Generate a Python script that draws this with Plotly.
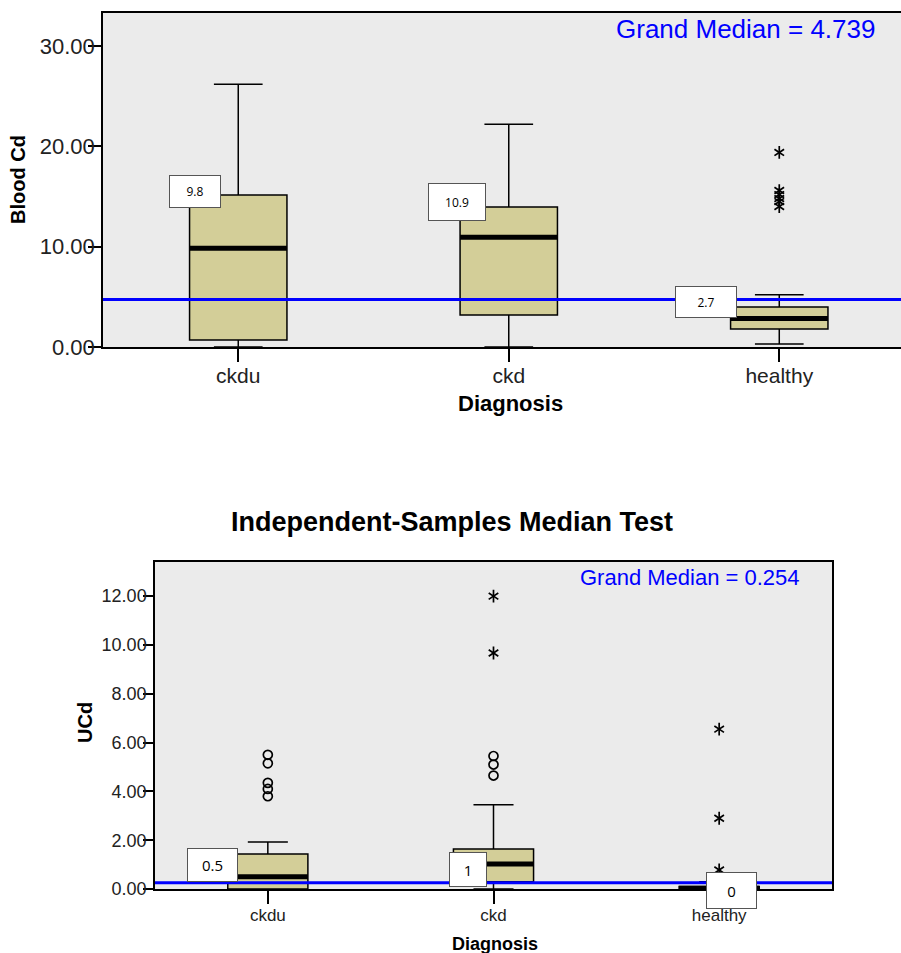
import plotly.graph_objects as go

# ---------------- data ----------------
categories = ["ckdu", "ckd", "healthy"]

# Blood Cd (top panel)
blood_q1 = [0.7, 3.2, 1.8]
blood_median = [9.85, 10.95, 2.85]
blood_q3 = [15.15, 13.95, 4.0]
blood_low = [0.0, 0.0, 0.3]
blood_high = [26.2, 22.2, 5.2]
blood_star_healthy = [19.4, 15.6, 15.2, 14.8, 14.5, 14.0]
blood_labels = ["9.8", "10.9", "2.7"]
blood_grand_median = 4.739

# Urinary Cd (bottom panel)
ucd_q1 = [0.0, 0.3, 0.0]
ucd_median = [0.5, 1.02, 0.03]
ucd_q3 = [1.43, 1.64, 0.1]
ucd_low = [0.0, 0.0, 0.0]
ucd_high = [1.93, 3.45, 0.3]
ucd_circ_ckdu = [5.5, 5.15, 4.35, 4.1, 3.8]
ucd_circ_ckd = [5.45, 5.1, 4.65]
ucd_star_ckd = [12.0, 9.67]
ucd_star_healthy = [6.55, 2.9, 0.78]
ucd_labels = ["0.5", "1", "0"]
ucd_grand_median = 0.254

W, H = 901, 953
def px(x):
    return x / W
def py(y):
    return 1 - y / H

FILL = "#D3CE98"
BG = "#EBEBEB"
FONT = "Liberation Sans, Arial, sans-serif"

fig = go.Figure()

def add_panel(xa, ya, q1, med, q3, lo, hi, bw):
    for i in range(len(categories)):
        fig.add_trace(go.Box(
            x=[i], q1=[q1[i]], median=[med[i]], q3=[q3[i]],
            lowerfence=[lo[i]], upperfence=[hi[i]],
            width=bw, whiskerwidth=0.5, fillcolor=FILL,
            line=dict(color="black", width=1.5), boxpoints=False,
            xaxis=xa, yaxis=ya, showlegend=False, hoverinfo="skip"))
        fig.add_trace(go.Scatter(
            x=[i - bw / 2, i + bw / 2], y=[med[i], med[i]], mode="lines",
            line=dict(color="black", width=5), xaxis=xa, yaxis=ya,
            showlegend=False, hoverinfo="skip"))

def add_points(xa, ya, idx, vals, kind):
    symbols = ["circle-open"] if kind == "circle" else ["y-up-open", "y-down-open"]
    for s in symbols:
        fig.add_trace(go.Scatter(
            x=[idx] * len(vals), y=vals, mode="markers",
            marker=dict(symbol=s, size=9 if kind == "circle" else 8, color="black",
                        line=dict(color="black", width=1.7)),
            xaxis=xa, yaxis=ya, showlegend=False, hoverinfo="skip"))

# top panel
add_panel("x", "y", blood_q1, blood_median, blood_q3, blood_low, blood_high, 0.36)
add_points("x", "y", 2, blood_star_healthy, "star")
# bottom panel
add_panel("x2", "y2", ucd_q1, ucd_median, ucd_q3, ucd_low, ucd_high, 0.355)
add_points("x2", "y2", 0, ucd_circ_ckdu, "circle")
add_points("x2", "y2", 1, ucd_circ_ckd, "circle")
add_points("x2", "y2", 1, ucd_star_ckd, "star")
add_points("x2", "y2", 2, ucd_star_healthy, "star")

# grand median lines
fig.add_shape(type="line", xref="x domain", yref="y", x0=0, x1=1,
              y0=blood_grand_median, y1=blood_grand_median,
              line=dict(color="#0000FF", width=3))
fig.add_shape(type="line", xref="x2 domain", yref="y2", x0=0, x1=1,
              y0=ucd_grand_median, y1=ucd_grand_median,
              line=dict(color="#0000FF", width=3))

# median value labels
top_off = [(-0.16, 5.7), (-0.19, 3.5), (-0.27, 1.64)]
top_box = [(48, 29), (54, 34), (58, 28)]
for i, (dx, dy) in enumerate(top_off):
    fig.add_annotation(x=i + dx, y=blood_median[i] + dy, xref="x", yref="y",
                       xanchor="center", yanchor="middle",
                       text=blood_labels[i], showarrow=False,
                       font=dict(size=12, color="black", family="Open Sans, sans-serif"),
                       bgcolor="white", bordercolor="#555", borderwidth=1,
                       width=top_box[i][0], height=top_box[i][1], align="center")
bot_off = [(-0.244, 0.48, 0), (-0.115, -0.24, 0), (0.053, 0.0, -2)]
bot_box = [(47, 30), (34, 31), (47, 33)]
for i, (dx, dy, ys) in enumerate(bot_off):
    fig.add_annotation(x=i + dx, y=ucd_median[i] + dy, xref="x2", yref="y2",
                       xanchor="center", yanchor="middle", yshift=ys,
                       text=ucd_labels[i], showarrow=False,
                       font=dict(size=15, color="black", family="Open Sans, sans-serif"),
                       bgcolor="white", bordercolor="#555", borderwidth=1,
                       width=bot_box[i][0], height=bot_box[i][1], align="center")

# texts
def txt(x, y, s, size, color="black", angle=0):
    fig.add_annotation(x=px(x), y=py(y), xref="paper", yref="paper",
                       xanchor="center", yanchor="middle", text=s, showarrow=False,
                       textangle=angle, font=dict(size=size, color=color, family=FONT))

txt(745, 29, "Grand Median = %.3f" % blood_grand_median, 26, "#0000FF")
txt(690, 577, "Grand Median = %.3f" % ucd_grand_median, 22, "#0000FF")
txt(452, 522, "<b>Independent-Samples Median Test</b>", 27)
txt(18, 180, "<b>Blood Cd</b>", 20, angle=-90)
txt(510, 403, "<b>Diagnosis</b>", 22)
txt(85, 723, "<b>UCd</b>", 20, angle=-90)
txt(495, 944, "<b>Diagnosis</b>", 18)

axis_common = dict(showline=True, linecolor="black", linewidth=1.5, ticks="outside",
                   tickcolor="black", tickwidth=1.5, showgrid=False, zeroline=False,
                   fixedrange=True, automargin=False)

fig.update_layout(
    width=W, height=H, margin=dict(l=0, r=0, t=0, b=0, pad=0, autoexpand=False),
    paper_bgcolor="white", plot_bgcolor=BG, showlegend=False,
    xaxis=dict(domain=[px(103), 1.0], anchor="y", range=[-0.5, 2.45],
               tickvals=[0, 1, 2], ticktext=categories, ticklen=13, mirror=True,
               ticklabelstandoff=-4,
               tickfont=dict(size=21, family=FONT, color="#222"), **axis_common),
    yaxis=dict(domain=[py(347), py(13)], anchor="x", range=[0, 33.3],
               tickvals=[0, 10, 20, 30], tickformat=".2f", ticklen=13,
               ticklabelstandoff=-11,
               tickfont=dict(size=22, family=FONT, color="#222"), **axis_common),
    xaxis2=dict(domain=[px(155), px(832)], anchor="y2", range=[-0.5, 2.5],
                tickvals=[0, 1, 2], ticktext=categories, ticklen=13, mirror=True,
                ticklabelstandoff=-3,
                tickfont=dict(size=17, family=FONT, color="#222"), **axis_common),
    yaxis2=dict(domain=[py(889), py(562)], anchor="x2", range=[0, 13.4],
                tickvals=[0, 2, 4, 6, 8, 10, 12], tickformat=".2f", ticklen=10,
                ticklabelstandoff=-7, mirror=True,
                tickfont=dict(size=18, family=FONT, color="#222"), **axis_common),
)

fig.write_html(
    "out.html",
    config={"displayModeBar": False},
    post_script="document.body.style.margin='0';"
                "document.documentElement.style.overflow='hidden';"
                "document.body.style.overflow='hidden';",
)
